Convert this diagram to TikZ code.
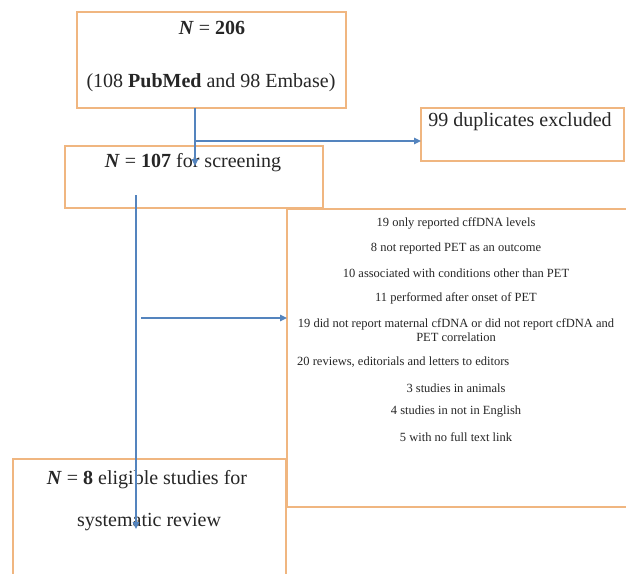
\documentclass[tikz,border=0pt]{standalone}
\usepackage{fontspec}
\setmainfont{Liberation Serif}
\usetikzlibrary{arrows.meta,calc,positioning}

\definecolor{boxcol}{RGB}{240,182,128}
\definecolor{arrcol}{RGB}{84,132,190}

\begin{document}
\begin{tikzpicture}[
  x=1pt, y=-1pt,
  box/.style={draw=boxcol, line width=1.4pt, inner sep=0pt, outer sep=0pt},
  big/.style={font=\fontsize{20}{24}\selectfont, text=black!85, inner sep=0pt},
  small/.style={font=\fontsize{12.5}{14}\selectfont, text=black!85, inner sep=0pt, align=center},
  arr/.style={-{Triangle[length=7pt,width=6.5pt]}, draw=arrcol, line width=1.4pt},
]
\fill[white] (0,0) rectangle (626,573);
\useasboundingbox (0,0) rectangle (626,573);

%% ═══ BOXES ═══════════════════════════════════════════════════════════
\node[box, minimum width=269pt, minimum height=96pt]  (src)  at (211.5,60)  {};
\node[box, minimum width=258pt, minimum height=62pt]  (scr)  at (194,177)   {};
\node[box, minimum width=203pt, minimum height=53pt]  (dup)  at (522.5,134.5) {};
\node[box, minimum width=343pt, minimum height=298pt] (excl) at (458.5,358) {};
\node[box, minimum width=273pt, minimum height=131pt] (elig) at (149.5,524.5) {};

% records found
\node[big] (srcN)  at (212,28) {\textbf{\textit{N}} = \textbf{206}};
\node[big] (srcDb) at (211,83) {(108 \textbf{PubMed} and 98 Embase)};

% duplicates and screening
\node[big] (dupT) at (520,122) {99 duplicates excluded};
\node[big] (scrT) at (193,163) {\textbf{\textit{N}} = \textbf{107} for screening};

% reasons for exclusion
\node[small] (ex1) at (456,223) {19 only reported cffDNA levels};
\node[small] (ex2) at (456,248) {8 not reported PET as an outcome};
\node[small] (ex3) at (456,273) {10 associated with conditions other than PET};
\node[small] (ex4) at (456,298) {11 performed after onset of PET};
\node[small] (ex5) at (456,330) {19 did not report maternal cfDNA or did not report cfDNA and\\PET correlation};
\node[small, anchor=west] (ex6) at (297,362) {20 reviews, editorials and letters to editors};
\node[small] (ex7) at (456,388) {3 studies in animals};
\node[small] (ex8) at (456,412) {4 studies in not in English};
\node[small] (ex9) at (456,437) {5 with no full text link};

% included studies
\node[big] (eligA) at (147,480) {\textbf{\textit{N}} = \textbf{8} eligible studies for};
\node[big] (eligB) at (149,522) {systematic review};

%% ═══ ARROWS ══════════════════════════════════════════════════════════
\coordinate (split)  at (195,141);
\coordinate (scrin)  at (195,166);
\coordinate (scrout) at (136,195);
\coordinate (eligin) at (136,529);
\coordinate (exsplit) at (141,318);

\draw[arr] (src.south -| split) -- (scrin);
\draw[arr] (split) -- (dup.west |- split);
\draw[arr] (scrout) -- (eligin);
\draw[arr] (exsplit) -- (excl.west |- exsplit);

\end{tikzpicture}
\end{document}
